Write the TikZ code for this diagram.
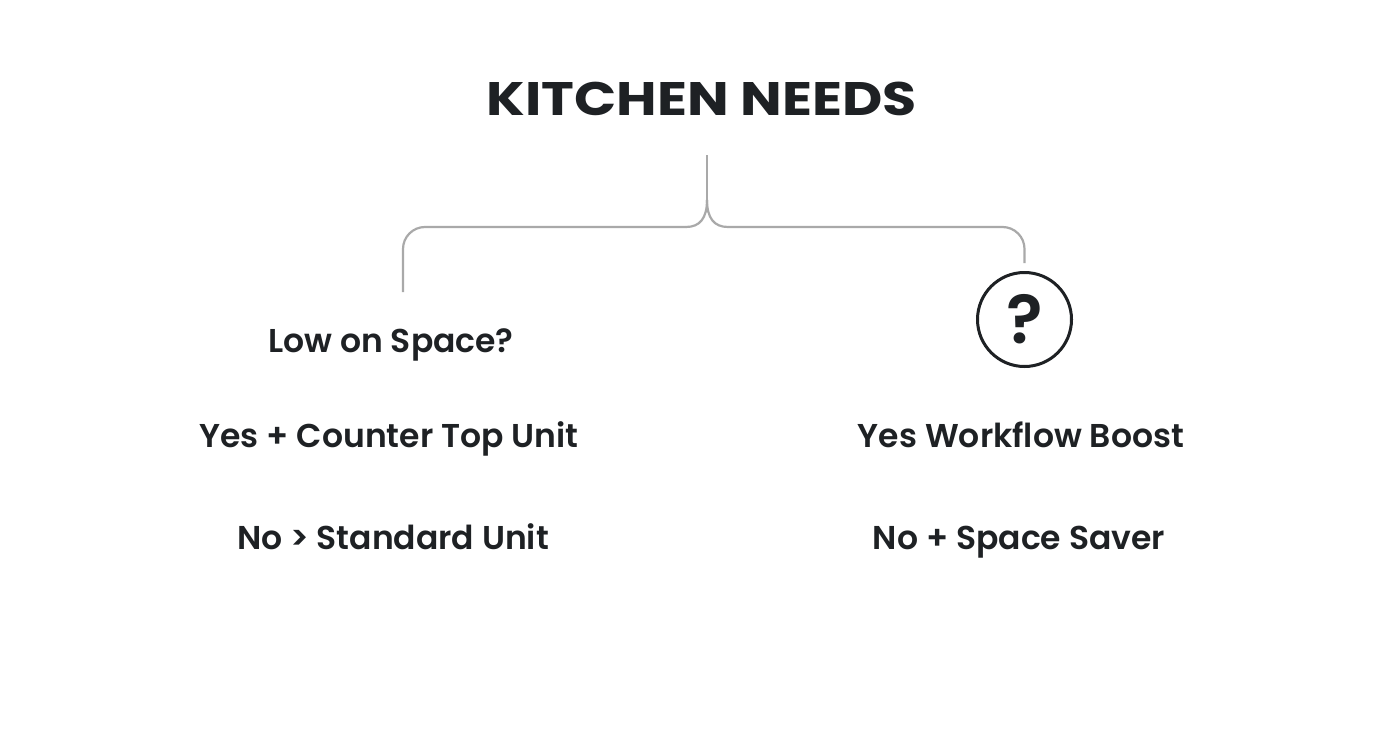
\documentclass[tikz,border=0pt]{standalone}
\usepackage{fontspec}
\setmainfont{Poppins}[BoldFont={Poppins SemiBold}]
\newfontfamily\titlefont{Poppins}[UprightFont={* Bold}, FakeStretch=1.18]
\definecolor{ink}{HTML}{1E2124}
\definecolor{linegray}{HTML}{A9A9A9}
\begin{document}
\begin{tikzpicture}[x=1pt,y=-1pt,
  title/.style={font=\titlefont\fontsize{47}{56}\selectfont, text=ink, inner sep=0pt, anchor=base},
  label/.style={font=\fontsize{33}{40}\selectfont\bfseries, text=ink, inner sep=0pt, anchor=base},
  link/.style={draw=linegray, line width=2.2pt},
  qcircle/.style={circle, draw=ink, line width=3pt, minimum size=94pt, inner sep=0pt,
    font=\fontsize{68}{72}\selectfont\bfseries, text=ink}]
\useasboundingbox[fill=white] (0,0) rectangle (1392,752);
\node[title] (t) at (702,115) {KITCHEN NEEDS};
\coordinate (stem) at (707,155);
\coordinate (split) at (707,200);
\node[label] (low) at (391,352) {Low on Space?};
\node[label] (yes1) at (389,447) {Yes + Counter Top Unit};
\node[label] (no1) at (393,549) {No > Standard Unit};
\node[qcircle] (q) at (1024.5,319.5) {?};
\node[label] (yes2) at (1021,447) {Yes Workflow Boost};
\node[label] (no2) at (1019,549) {No + Space Saver};
\coordinate (lend) at (403,292);
\coordinate (rend) at (1024.5,263);
\coordinate (lj) at (686,227);
\coordinate (rj) at (728,227);
\draw[link] (stem) -- (split);
\draw[link] (split) .. controls (707,218) and (700,227) .. (lj);
\draw[link] (split) .. controls (707,218) and (714,227) .. (rj);
\draw[link, rounded corners=22pt] (lj) -- (lend |- lj) -- (lend);
\draw[link, rounded corners=22pt] (rj) -- (rend |- rj) -- (rend);
\end{tikzpicture}
\end{document}
